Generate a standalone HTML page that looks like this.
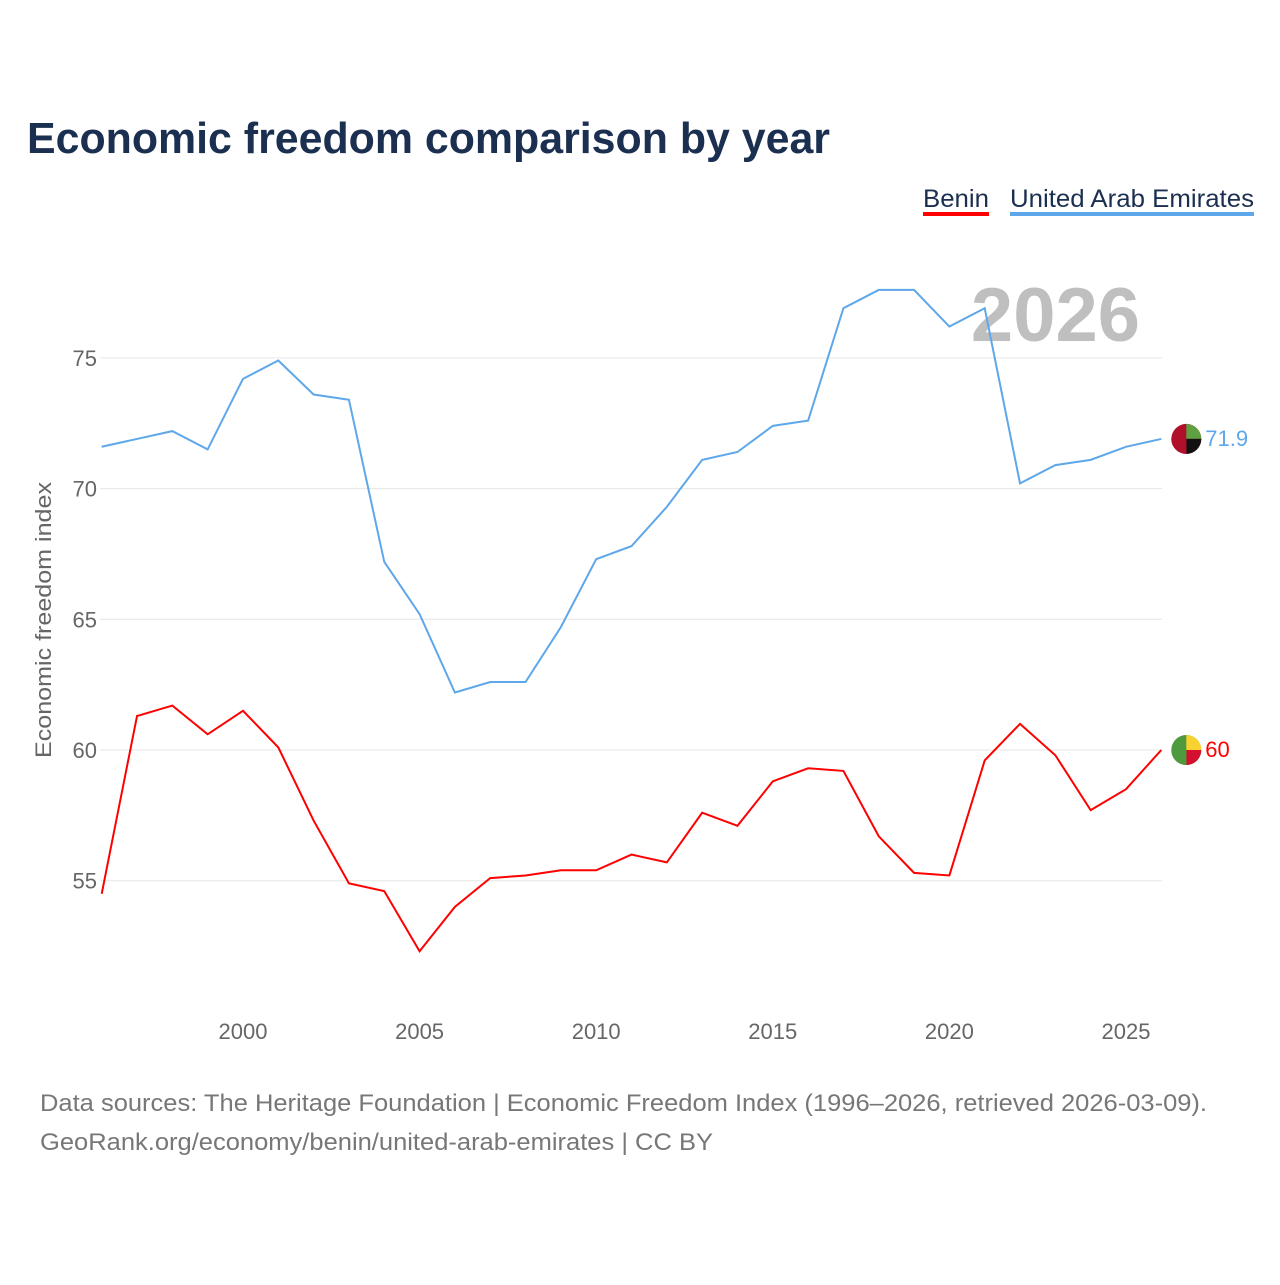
<!DOCTYPE html>
<html><head><meta charset="utf-8"><style>
body{margin:0;background:#fff;font-family:"Liberation Sans",sans-serif;}
</style></head><body>
<svg width="1280" height="1280" xmlns="http://www.w3.org/2000/svg">
<text x="27" y="153" font-size="44" font-weight="bold" fill="#1b2f50" textLength="803" lengthAdjust="spacingAndGlyphs">Economic freedom comparison by year</text>
<g>
<text x="923" y="207" font-size="25" fill="#1b2f50" textLength="66" lengthAdjust="spacingAndGlyphs">Benin</text>
<rect x="923" y="212" width="66" height="4" fill="#ff0000"/>
<text x="1010" y="207" font-size="25" fill="#1b2f50" textLength="244" lengthAdjust="spacingAndGlyphs">United Arab Emirates</text>
<rect x="1010" y="212" width="244" height="4" fill="#5ea7ea"/>
</g>
<text x="1140" y="341" font-size="76" font-weight="bold" fill="#bfbfbf" text-anchor="end">2026</text>
<g id="grid"></g>
<g id="xt"></g>
<text transform="translate(51,620) rotate(-90)" font-size="22" fill="#666" text-anchor="middle" textLength="276" lengthAdjust="spacingAndGlyphs">Economic freedom index</text>
<g id="series"></g>
<text x="40" y="1111" font-size="24" fill="#777" textLength="1167" lengthAdjust="spacingAndGlyphs">Data sources: The Heritage Foundation | Economic Freedom Index (1996–2026, retrieved 2026-03-09).</text>
<text x="40" y="1150" font-size="24" fill="#777" textLength="673" lengthAdjust="spacingAndGlyphs">GeoRank.org/economy/benin/united-arab-emirates | CC BY</text>
</svg>
<script>
const years=[1996,1997,1998,1999,2000,2001,2002,2003,2004,2005,2006,2007,2008,2009,2010,2011,2012,2013,2014,2015,2016,2017,2018,2019,2020,2021,2022,2023,2024,2025,2026];
const uae=[71.6,71.9,72.2,71.5,74.2,74.9,73.6,73.4,67.2,65.2,62.2,62.6,62.6,64.7,67.3,67.8,69.3,71.1,71.4,72.4,72.6,76.9,77.6,77.6,76.2,76.9,70.2,70.9,71.1,71.6,71.9];
const benin=[54.5,61.3,61.7,60.6,61.5,60.1,57.3,54.9,54.6,52.3,54.0,55.1,55.2,55.4,55.4,56.0,55.7,57.6,57.1,58.8,59.3,59.2,56.7,55.3,55.2,59.6,61.0,59.8,57.7,58.5,60.0];
const yTicks=[55,60,65,70,75];
const xTicks=[2000,2005,2010,2015,2020,2025];
const X=y=>101.7+(y-1996)*35.32;
const Y=v=>750-(v-60)*26.14;
const NS="http://www.w3.org/2000/svg";
function mk(t,a,p){const e=document.createElementNS(NS,t);for(const k in a)e.setAttribute(k,a[k]);p.appendChild(e);return e;}
const grid=document.getElementById('grid');
yTicks.forEach(v=>{
 const l=mk('line',{x1:100,x2:1162,y1:Y(v),y2:Y(v),stroke:'#e6e6e6','stroke-width':1},grid);
 
 
 const t=mk('text',{x:97,y:Y(v)+8,'font-size':22,fill:'#666','text-anchor':'end'},grid);t.textContent=v;
 
 
});
const xt=document.getElementById('xt');
xTicks.forEach(v=>{
 const t=mk('text',{x:X(v),y:1039,'font-size':22,fill:'#666','text-anchor':'middle'},xt);t.textContent=v;
 
 
});
const s=document.getElementById('series');
function line(d,c,name,cols,lab){
 const p=mk('polyline',{points:d.map((v,i)=>X(years[i])+','+Y(v)).join(' '),fill:'none',stroke:c,'stroke-width':2},s);
 
 
 const last=d[d.length-1],cx=X(years[years.length-1])+25,cy=Y(last);
 const g=mk('g',{},s);
 
 
 mk('circle',{cx:cx,cy:cy,r:15,fill:cols[0]},g);
 mk('path',{d:`M${cx} ${cy} L${cx} ${cy-15} A15 15 0 0 1 ${cx+15} ${cy} Z`,fill:cols[1]},g);
 mk('path',{d:`M${cx} ${cy} L${cx+15} ${cy} A15 15 0 0 1 ${cx} ${cy+15} Z`,fill:cols[2]},g);
 mk('path',{d:`M${cx} ${cy} L${cx} ${cy+15} A15 15 0 0 1 ${cx-15} ${cy} Z`,fill:cols[3]},g);
 const t=mk('text',{x:cx+19,y:cy+7,'font-size':22,fill:c},s);t.textContent=lab;
 
 
}
line(uae,'#5ea7ea','uae',['#b0102a','#5fa043','#111','#b0102a'],'71.9');
line(benin,'#ff0000','benin',['#4f9a3c','#f8d231','#d4102e','#4f9a3c'],'60');
</script>
</body></html>
